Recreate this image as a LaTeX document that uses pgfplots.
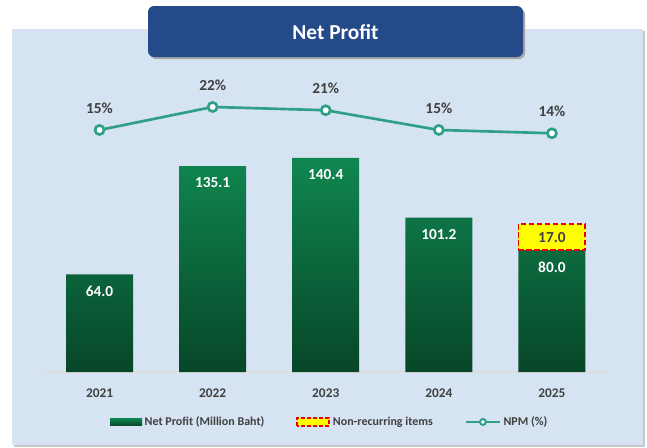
\documentclass[border=0pt]{standalone}
\usepackage{fontspec}
\setmainfont{Carlito}
\usepackage{pgfplots}
\pgfplotsset{compat=1.18}
\definecolor{panel}{RGB}{214,227,242}
\definecolor{titlebox}{RGB}{36,74,138}
\definecolor{gtop}{RGB}{16,134,80}
\definecolor{gbot}{RGB}{7,70,40}
\definecolor{tealc}{RGB}{47,160,135}
\definecolor{txt}{RGB}{64,64,64}
\definecolor{nryellow}{RGB}{255,255,0}
\definecolor{nrred}{RGB}{232,0,0}
\begin{document}
\begin{tikzpicture}
\begin{scope}[x=0.75pt,y=-0.75pt]
\path (0,0) rectangle (647,447);
\fill[black!22] (14,31) rectangle (645,447);
\fill[panel] (12,29) rectangle (643,445);
\fill[black!35, rounded corners=4.5pt] (150,8.5) rectangle (525,59);
\fill[titlebox, rounded corners=4.5pt] (148,6) rectangle (523,57);
\node[text=white, font=\fontsize{16}{19}\selectfont\bfseries] at (335.5,32) {Net Profit};
\end{scope}

\begin{axis}[
  at={(32.25pt,-279pt)}, anchor=south west, scale only axis,
  width=424.125pt, height=219pt,
  xmin=-0.5, xmax=4.5, ymin=0, ymax=191.5,
  axis x line=bottom, axis y line=none,
  x axis line style={-, draw=black!13, line width=0.9pt},
  xtick={0,1,2,3,4}, xticklabels={2021,2022,2023,2024,2025},
  xtick style={draw=none},
  xticklabel style={font=\fontsize{10}{12}\selectfont\bfseries, text=txt, yshift=-7pt},
  clip=false,
  legend columns=3,
  legend style={at={(0.5075,-0.171)}, anchor=center, draw=none, fill=none,
    font=\fontsize{9}{11}\selectfont\bfseries, text=txt,
    /tikz/every even column/.append style={column sep=22pt}},
]
\addplot[ybar, bar width=50.25pt, draw=none, top color=gtop, bottom color=gbot,
  nodes near coords, point meta=explicit symbolic,
  nodes near coords style={text=white, font=\fontsize{11.5}{13}\selectfont\bfseries, anchor=center, yshift=-12.75pt},
  legend image code/.code={\fill[top color=gtop, bottom color=gbot] (0pt,-2.7pt) rectangle (24pt,2.7pt);}]
  coordinates {(0,64.0)[64.0] (1,135.1)[135.1] (2,140.4)[140.4] (3,101.2)[101.2] (4,80.0)[80.0]};
\addlegendentry{Net Profit (Million Baht)}
\addplot[fill=nryellow, draw=nrred, line width=1.4pt, dash pattern=on 4pt off 2pt,
  legend image code/.code={\draw[fill=nryellow, draw=nrred, line width=1.4pt, dash pattern=on 3pt off 1.5pt] (0pt,-3pt) rectangle (24pt,3pt);}]
  coordinates {(3.704,80) (4.296,80) (4.296,97) (3.704,97)} -- cycle;
\addlegendentry{Non-recurring items}
\node[text=txt, font=\fontsize{11.5}{13}\selectfont\bfseries] at (axis cs:4,88.5) {17.0};
\addlegendimage{legend image code/.code={\draw[tealc, line width=2pt] (0pt,0pt) -- (25pt,0pt); \draw[tealc, line width=1.5pt, fill=white] (12.5pt,0pt) circle (2.2pt);}}
\addlegendentry{NPM (\%)}
\end{axis}

\begin{axis}[
  at={(32.25pt,-279pt)}, anchor=south west, scale only axis,
  width=424.125pt, height=219pt,
  xmin=-0.5, xmax=4.5, ymin=-58.6, ymax=30.2,
  hide axis, clip=false,
]
\addplot[tealc, line width=2pt, mark=*, mark size=3.4pt,
  mark options={fill=white, draw=tealc, line width=2pt},
  nodes near coords, point meta=explicit symbolic,
  nodes near coords style={text=txt, font=\fontsize{11.5}{13}\selectfont\bfseries, anchor=center, yshift=16.5pt}]
  coordinates {(0,15)[15\%] (1,22)[22\%] (2,21)[21\%] (3,15)[15\%] (4,14)[14\%]};
\end{axis}
\end{tikzpicture}
\end{document}
